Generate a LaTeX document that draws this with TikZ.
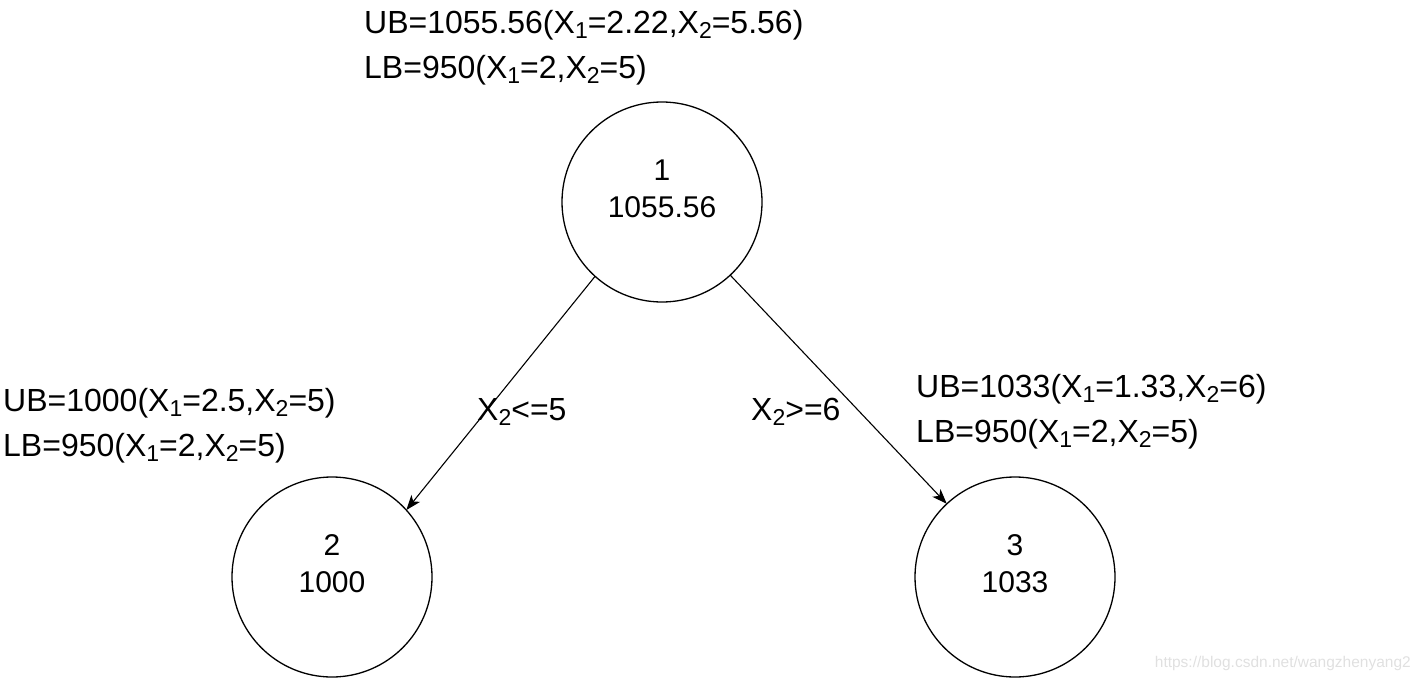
\documentclass[tikz,border=0pt]{standalone}
\usepackage{fontspec}
\setmainfont{Liberation Sans}
\usetikzlibrary{arrows.meta}
\newcommand{\lsub}[1]{\raisebox{-5pt}{\fontsize{23}{23}\selectfont #1}}
\tikzset{
  circ/.style={circle, draw, line width=1.3pt, minimum size=200pt, inner sep=0pt, outer sep=0pt},
  ctext/.style={align=center, inner sep=0pt, font=\fontsize{30}{37}\selectfont},
  bound/.style={anchor=north west, align=left, inner sep=0pt, font=\fontsize{32}{44.5}\selectfont},
  elabel/.style={anchor=base west, inner sep=0pt, font=\fontsize{32}{36}\selectfont},
  arr/.style={line width=1.1pt, -{Stealth[length=15pt, width=11pt, inset=4pt]}},
  wm/.style={anchor=base east, inner sep=0pt, text=black!12, font=\fontsize{15.5}{18}\selectfont}
}
\begin{document}
\begin{tikzpicture}[x=1pt, y=-1pt]
\useasboundingbox (0,0) rectangle (1420,679);
% circles
\node[circ] (n1) at (662,202) {};
\node[circ] (n2) at (332,577) {};
\node[circ] (n3) at (1015,577) {};
% circle texts
\node[ctext] (t1) at ([yshift=13pt]n1.center) {1\\1055.56};
\node[ctext] (t2) at ([yshift=13pt]n2.center) {2\\1000};
\node[ctext] (t3) at ([yshift=13pt]n3.center) {3\\1033};
% bound labels
\node[bound] (b1) at (364,10.5) {UB=1055.56(X\lsub{1}=2.22,X\lsub{2}=5.56)\\LB=950(X\lsub{1}=2,X\lsub{2}=5)};
\node[bound] (b2) at (3,388.5) {UB=1000(X\lsub{1}=2.5,X\lsub{2}=5)\\LB=950(X\lsub{1}=2,X\lsub{2}=5)};
\node[bound] (b3) at (916,374.5) {UB=1033(X\lsub{1}=1.33,X\lsub{2}=6)\\LB=950(X\lsub{1}=2,X\lsub{2}=5)};
% edges
\draw[arr] (n1.228) -- (n2.42.5);
\draw[arr] (n1.313.9) -- (n3.133.8);
% edge labels
\node[elabel] (e1) at (477,420) {X\lsub{2}<=5};
\node[elabel] (e2) at (751,420) {X\lsub{2}>=6};
% watermark
\node[wm] (wm) at (1411,667) {https://blog.csdn.net/wangzhenyang2};
\end{tikzpicture}
\end{document}
